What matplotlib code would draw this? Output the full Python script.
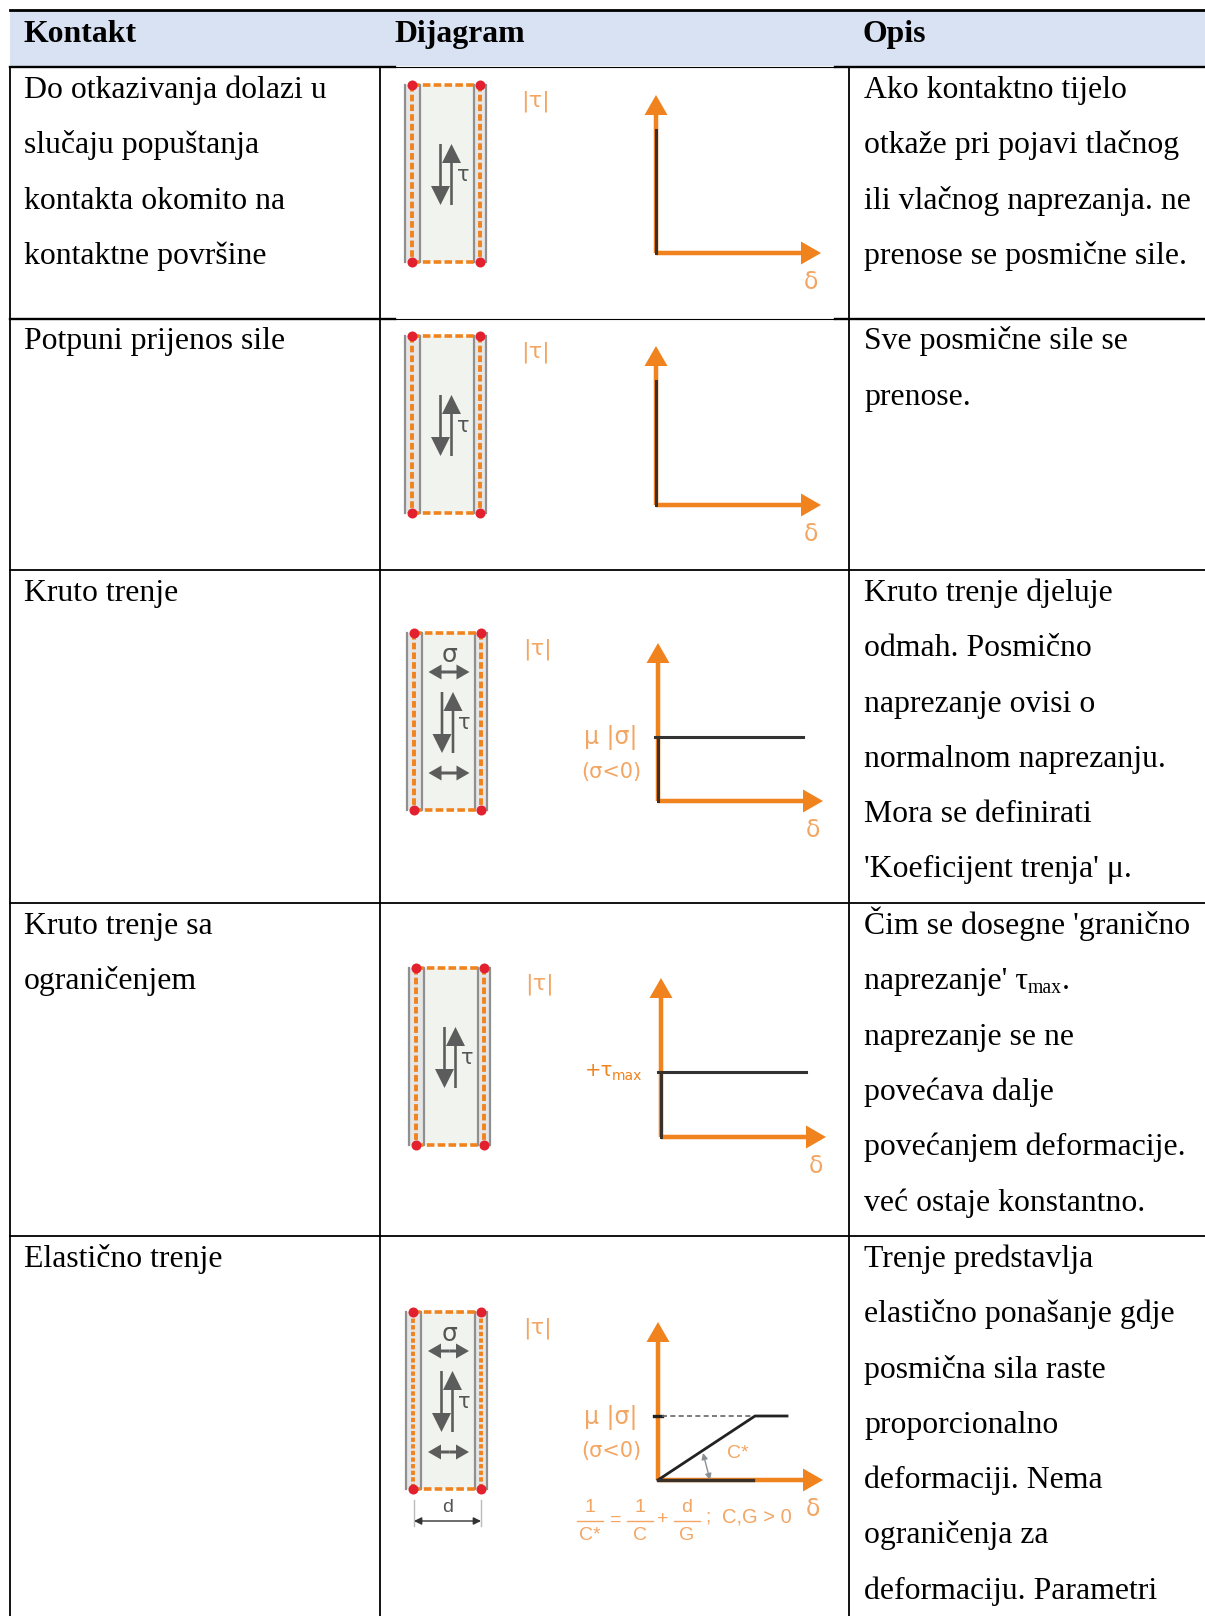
import matplotlib.pyplot as plt

plt.rcParams['font.family'] = ['Liberation Serif', 'DejaVu Serif']

headers = ['Kontakt', 'Dijagram', 'Opis']
kontakt = [
    ['Do otkazivanja dolazi u', 'slučaju popuštanja', 'kontakta okomito na', 'kontaktne površine'],
    ['Potpuni prijenos sile'],
    ['Kruto trenje'],
    ['Kruto trenje sa', 'ograničenjem'],
    ['Elastično trenje'],
]
opis = [
    ['Ako kontaktno tijelo', 'otkaže pri pojavi tlačnog', 'ili vlačnog naprezanja. ne', 'prenose se posmične sile.'],
    ['Sve posmične sile se', 'prenose.'],
    ['Kruto trenje djeluje', 'odmah. Posmično', 'naprezanje ovisi o', 'normalnom naprezanju.', 'Mora se definirati',
     "'Koeficijent trenja' μ."],
    ['Čim se dosegne \'granično', "naprezanje' τ|max|.", 'naprezanje se ne', 'povećava dalje', 'povećanjem deformacije.',
     'već ostaje konstantno.'],
    ['Trenje predstavlja', 'elastično ponašanje gdje', 'posmična sila raste', 'proporcionalno', 'deformaciji. Nema',
     'ograničenja za', 'deformaciju. Parametri'],
]

W, H = 1205, 1616
row_y = [67, 318.5, 570, 903, 1236]
col_x = [9.5, 380, 849]
panel_x = [412, 412, 413.5, 416, 413]    # lijeva crvena tocka
panel_y = [85, 336, 633, 968, 1312]
axis_x = [656, 656, 658, 661, 658]
axis_top = [95, 346, 643, 978, 1322]
axis_y = [253, 505, 801, 1137, 1480]
level_y = [None, None, 737, 1072, 1416]
orange = '#f0831e'
pale = '#f3a663'
grey = '#5c5c5c'
FS = 22.9

fig = plt.figure(figsize=(W / 100, H / 100), dpi=100)
ax = fig.add_axes([0, 0, 1, 1])
ax.set_xlim(0, W)
ax.set_ylim(H, 0)
ax.axis('off')

# tablica
ax.fill_between([9.5, W], 11, 66, color='#d9e2f3', lw=0)
ax.plot([9.5, W], [10, 10], color='black', lw=2)
for i, y in enumerate(row_y):
    if i < 2:
        ax.plot([9.5, 395], [y, y], color='black', lw=1.7)
        ax.plot([395, 835], [y, y], color='black', lw=0.8)
        ax.plot([835, W], [y, y], color='black', lw=1.7)
    else:
        ax.plot([9.5, W], [y, y], color='black', lw=1.3)
for x in col_x:
    ax.plot([x, x], [row_y[0], H], color='black', lw=1.3)

for x, s in zip([24, 394, 863], headers):
    ax.text(x, 42, s, fontsize=FS, fontweight='bold', va='baseline')


def napisi(x, y, s):
    # dio izmedu | | ide kao indeks
    if '|' not in s:
        ax.text(x, y, s, fontsize=FS, va='baseline')
        return
    a, b, c = s.split('|')
    r = fig.canvas.get_renderer()
    t = ax.text(x, y, a, fontsize=FS, va='baseline')
    x2 = t.get_window_extent(r).x1
    t = ax.text(x2, y + 4, b, fontsize=FS * 0.62, va='baseline')
    ax.text(t.get_window_extent(r).x1, y, c, fontsize=FS, va='baseline')


for i, y in enumerate(row_y):
    for j, s in enumerate(kontakt[i]):
        napisi(24, y + 31 + j * 55.3, s)
    for j, s in enumerate(opis[i]):
        napisi(864, y + 31 + j * 55.3, s)


def strelica(x0, y0, x1, y1, c, w, hw, hl):
    ax.arrow(x0, y0, x1 - x0, y1 - y0, width=w, head_width=hw, head_length=hl,
             length_includes_head=True, color=c, lw=0, zorder=4)


def panel(i):
    x, y = panel_x[i], panel_y[i]
    h = 177
    xr = x + 67.5
    ax.fill_between([x + 8, xr - 6], y, y + h, color='#f1f3ee', lw=0)
    ax.fill_between([x - 7, x + 8], y, y + h, color='#e6e6e6', lw=0)
    ax.fill_between([xr - 6, xr + 6], y, y + h, color='#e6e6e6', lw=0)
    for gx in [x - 7, x + 8, xr - 6, xr + 6]:
        ax.plot([gx, gx], [y, y + h], color='#8f8f8f', lw=1.6)
    dash_v = (0, (1.7, 0.8)) if i < 4 else (0, (1.1, 0.6))
    for gx in [x, xr]:
        ax.plot([gx, gx], [y, y + h], color=orange, lw=2.8, ls=dash_v, zorder=3)
    for gy in [y, y + h]:
        ax.plot([x, xr], [gy, gy], color=orange, lw=2.6, ls=(0, (2.1, 0.9)), zorder=3)
    ax.scatter([x, xr, x, xr], [y, y, y + h, y + h], s=52, color='#e3212e', lw=0, zorder=5)
    # posmicna naprezanja
    strelica(x + 28.5, y + 59, x + 28.5, y + 120, grey, 2.6, 19, 19)
    strelica(x + 39.5, y + 120, x + 39.5, y + 59, grey, 2.6, 19, 19)
    ax.text(x + 51, y + 90, 'τ', fontsize=15, color='#555555', ha='center', va='center', family='DejaVu Sans')
    if i in (2, 4):
        ax.text(x + 36.5, y + 22, 'σ', fontsize=18, color='#555555', ha='center', va='center', family='DejaVu Sans')
        for gy in [y + 39, y + 140]:
            strelica(x + 36.5, gy, x + 15, gy, grey, 3, 15, 13)
            strelica(x + 36.5, gy, x + 56, gy, grey, 3, 15, 13)


def oznaka(x, y, s, size=15, c=pale, fam='DejaVu Sans'):
    ax.text(x, y, s, fontsize=size, color=c, ha='center', va='center', family=fam)


def dijagram(i):
    x0, top, y0 = axis_x[i], axis_top[i], axis_y[i]
    strelica(x0, y0, x0, top, orange, 4.5, 23, 20)
    strelica(x0, y0, x0 + 165, y0, orange, 4.5, 23, 20)
    oznaka(x0 - 121, top + 6, '|τ|', 16)
    oznaka(x0 + 155, y0 + 29, 'δ', 17)
    black = '#3a3028'
    if i < 2:
        ax.plot([x0, x0], [top + 35, y0], color=black, lw=2.2, zorder=5)
    elif i in (2, 3):
        ax.plot([x0 - 3, x0 + 145], [level_y[i], level_y[i]], color='#333333', lw=2.2, zorder=5)
        ax.plot([x0, x0], [level_y[i], y0], color=black, lw=2.2, zorder=5)
    else:
        ly = level_y[i]
        ax.plot([x0 - 4, x0 + 4], [ly, ly], color='#222222', lw=2.4, zorder=5)
        ax.plot([x0 + 4, x0 + 95], [ly, ly], color='#666666', lw=1.2, ls=(0, (3, 2)), zorder=5)
        ax.plot([x0, x0 + 97, x0 + 129], [y0, ly, ly], color='#222222', lw=2, zorder=5)
        ax.plot([x0, x0 + 95], [y0, y0], color=black, lw=2.4, zorder=5)
        ax.annotate('', xy=(x0 + 52, y0), xytext=(x0 + 45, ly + 37), zorder=6,
                    arrowprops=dict(arrowstyle='<|-|>', color='#8a8f94', lw=1, mutation_scale=9, shrinkA=0, shrinkB=0))
    if i in (2, 4):
        oznaka(x0 - 47, level_y[i] + 1, 'μ |σ|', 17)
        oznaka(x0 - 47, level_y[i] + 35, '(σ<0)', 15)
    if i == 3:
        oznaka(x0 - 62, level_y[i] - 1, '+τ', 14, orange)
        oznaka(x0 - 34, level_y[i] + 4, 'max', 10, orange)
    if i == 4:
        sans = 'Liberation Sans'
        oznaka(x0 + 80, y0 - 27, 'C*', 14, pale, sans)
        for fx, a, b in [(590, '1', 'C*'), (640, '1', 'C'), (687, 'd', 'G')]:
            oznaka(fx, 1507, a, 14, pale, sans)
            oznaka(fx, 1536, b, 14, pale, sans)
            ax.plot([fx - 13, fx + 13], [1521, 1521], color=pale, lw=1)
        oznaka(616, 1520, '=', 14, pale, sans)
        oznaka(663, 1520, '+', 14, pale, sans)
        oznaka(708, 1517, ';', 14, pale, sans)
        oznaka(757, 1517, 'C,G > 0', 14.5, pale, sans)
        # mjera d
        xl, xr = panel_x[i] + 1, panel_x[i] + 68
        for gx in [xl, xr]:
            ax.plot([gx, gx], [1500, 1526], color='#bbbbbb', lw=1)
        ax.annotate('', xy=(xl, 1521), xytext=(xr, 1521),
                    arrowprops=dict(arrowstyle='<|-|>', color='#333333', lw=1, mutation_scale=11, shrinkA=0, shrinkB=0))
        ax.text(448, 1507, 'd', fontsize=14, color='#555555', ha='center', va='center', family='Liberation Sans')


for i in range(5):
    panel(i)
    dijagram(i)

fig.savefig('out.png', dpi=100)
